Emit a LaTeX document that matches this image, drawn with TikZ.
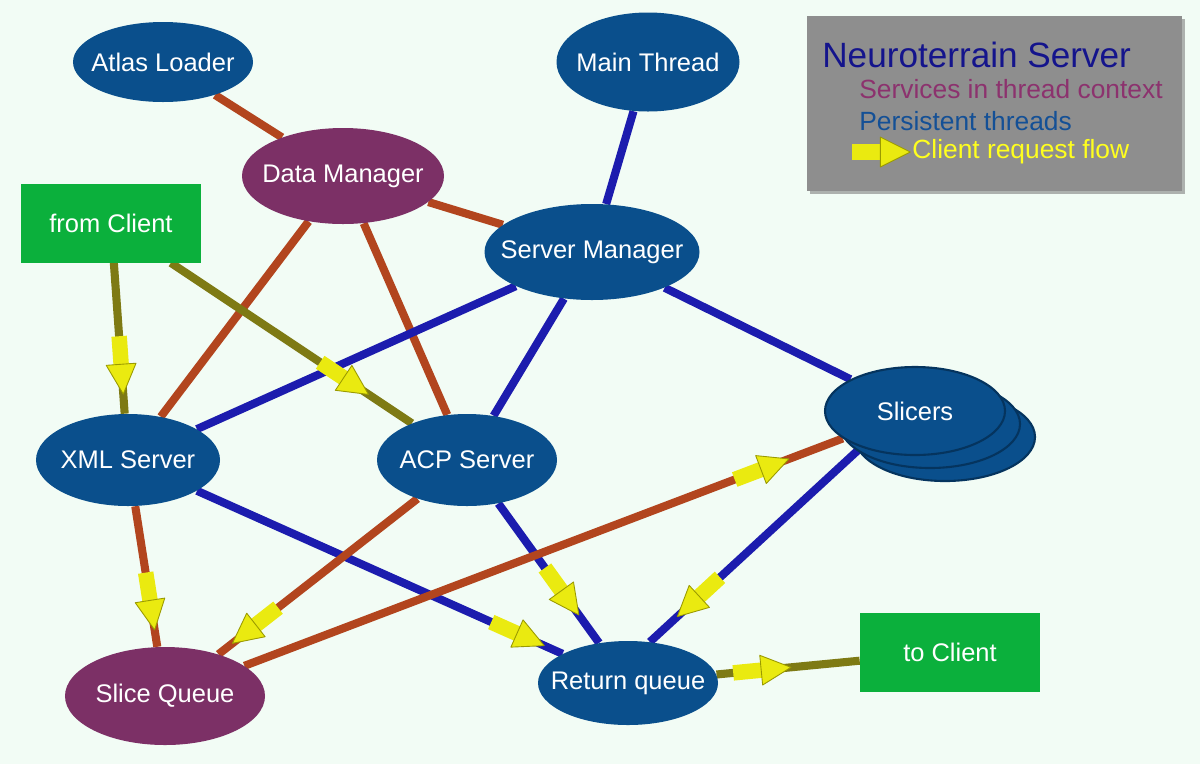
\documentclass[tikz,border=0pt]{standalone}
\usepackage{fontspec}
\setmainfont{Liberation Sans}
\usetikzlibrary{shapes,positioning,arrows,fit,calc,shadows,decorations.markings}
\pgfdeclarelayer{background}
\pgfsetlayers{background,main}

\definecolor{bgmint}{HTML}{F2FCF5}
\definecolor{threadblue}{HTML}{0A4F8C}
\definecolor{threaddark}{HTML}{05345E}
\definecolor{servpurple}{HTML}{7C3066}
\definecolor{clientgreen}{HTML}{0BB03C}
\definecolor{rustc}{HTML}{B2451E}
\definecolor{linkblue}{HTML}{1C1CAE}
\definecolor{olivec}{HTML}{7E7A14}
\definecolor{flowyellow}{HTML}{EAEA10}
\definecolor{flowdark}{HTML}{9A9A00}
\definecolor{leggray}{HTML}{8E8E8E}
\definecolor{titleblue}{HTML}{14148C}
\definecolor{servtext}{HTML}{8C326E}
\definecolor{threadtext}{HTML}{145096}
\definecolor{flowtext}{HTML}{FFFF1E}

\newcommand{\nodefont}{\fontsize{14.5}{17}\selectfont}
\newcommand{\lbl}[1]{\makebox[0pt]{#1}}

\tikzset{
  thread/.style={ellipse, fill=threadblue, inner sep=0pt, text=white, font=\nodefont},
  service/.style={ellipse, fill=servpurple, inner sep=0pt, text=white, font=\nodefont},
  client/.style={rectangle, fill=clientgreen, inner sep=0pt, text=white, font=\nodefont,
    minimum width=36mm, minimum height=15.8mm},
  link/.style={line width=4.6pt},
  rustlink/.style={link, draw=rustc},
  bluelink/.style={link, draw=linkblue},
  olivelink/.style={link, draw=olivec},
  flow/.style={postaction={decorate, decoration={markings, mark=at position #1 with {
    \fill[flowyellow] (-33pt,-4.4pt) rectangle (-15pt,4.4pt);
    \fill[flowyellow, draw=flowdark, line width=0.5pt, line join=round]
      (-17pt,-8.5pt) -- (0pt,0pt) -- (-17pt,8.5pt) -- cycle;}}}},
  legitem/.style={anchor=west, inner sep=0pt, font=\fontsize{15}{18}\selectfont}
}

\begin{document}
\begin{tikzpicture}[x=0.2mm, y=-0.2mm]
\useasboundingbox (0,0) rectangle (1200,764);

% threads and services
\node[thread, minimum width=36mm, minimum height=16mm] at (163,62) (atlas) {\lbl{Atlas Loader}};
\node[thread, minimum width=36.6mm, minimum height=19.8mm] at (648,62) (main) {\lbl{Main Thread}};
\node[service, minimum width=40.4mm, minimum height=19.2mm] at (343,176) (dm) {\lbl{Data Manager}};
\node[thread, minimum width=43mm, minimum height=19.2mm] at (592,252) (sm) {\lbl{Server Manager}};
\node[client] at (111,223) (fromclient) {from Client};
\node[thread, minimum width=36.8mm, minimum height=18.4mm] at (128,460) (xml) {\lbl{XML Server}};
\node[thread, minimum width=36mm, minimum height=18.4mm] at (467,460) (acp) {\lbl{ACP Server}};
\node[thread, minimum width=36mm, minimum height=17.6mm, draw=threaddark, line width=1.2pt,
  double copy shadow={shadow xshift=3mm, shadow yshift=-2.6mm}] at (915,411) (slicers) {\lbl{Slicers}};
\node[service, minimum width=40mm, minimum height=19.6mm] at (165,696) (sq) {\lbl{Slice Queue}};
\node[thread, minimum width=36mm, minimum height=16.8mm] at (628,683) (rq) {\lbl{Return queue}};
\node[client] at (950,652) (toclient) {to Client};

% legend
\node[rectangle, fill=leggray, minimum width=75mm, minimum height=35mm,
  drop shadow={shadow xshift=0.5mm, shadow yshift=-0.5mm, opacity=0.6}] at (994.5,103.5) (legend) {};
\node[anchor=west, inner sep=0pt, text=titleblue, font=\fontsize{20}{24}\selectfont] at (822,55) (legtitle) {Neuroterrain Server};
\node[legitem, text=servtext] at (859,89) (legserv) {Services in thread context};
\node[legitem, text=threadtext] at (859,121) (legthread) {Persistent threads};
\node[legitem, text=flowtext] at (912,152) (legflow) {Client request flow};
\coordinate (legstart) at (846,152);
\path[flow=-1pt] (legstart) -- (legflow.west);

\begin{pgfonlayer}{background}
\fill[bgmint] (0,0) rectangle (1200,764);
\draw[rustlink] (atlas) -- (dm);
\draw[rustlink] (dm) -- (sm);
\draw[rustlink] (dm) -- (xml);
\draw[rustlink] (dm) -- (acp);
\draw[bluelink] (main) -- (sm);
\draw[bluelink] (sm) -- (xml);
\draw[bluelink] (sm) -- (acp);
\draw[bluelink] (sm) -- (slicers);
% client request flow
\draw[olivelink, flow=0.87] (fromclient) -- (xml);
\draw[olivelink, flow=0.82] (fromclient) -- (acp);
\draw[rustlink, flow=0.88] (xml) -- (sq);
\draw[bluelink, flow=0.95] (xml) -- (rq);
\draw[rustlink, flow=0.93] (acp) -- (sq);
\draw[bluelink, flow=0.8] (acp) -- (rq);
\draw[rustlink, flow=0.91] (sq) -- (slicers);
\draw[bluelink, flow=0.87] (slicers.214) -- (rq.62);
\draw[olivelink, flow=0.52] (rq) -- (toclient);
\end{pgfonlayer}
\end{tikzpicture}
\end{document}
